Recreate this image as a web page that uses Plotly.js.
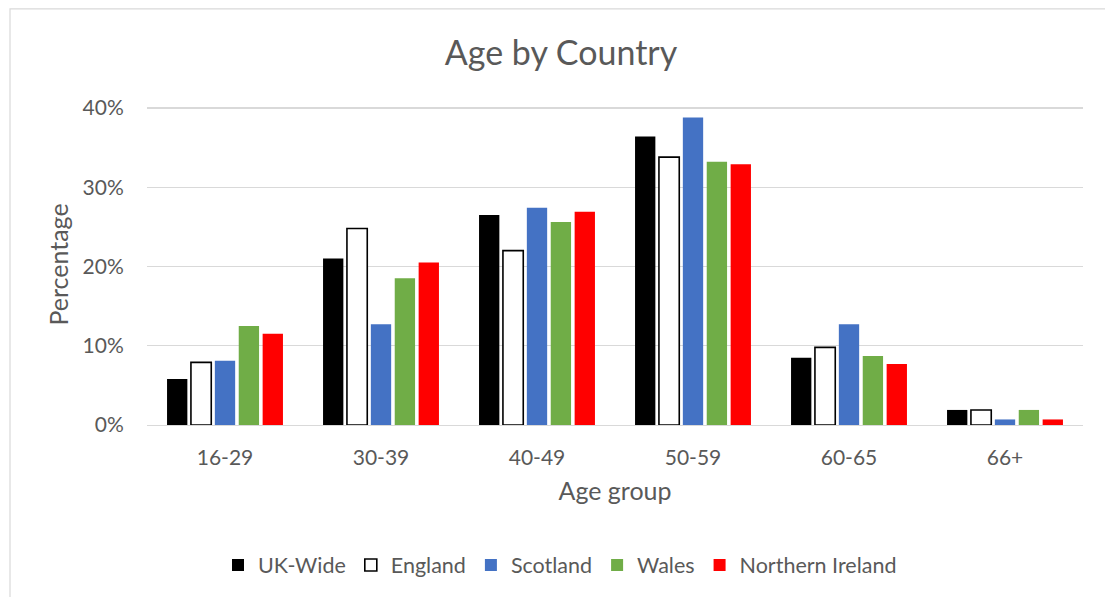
<!DOCTYPE html>
<html>
<head>
<meta charset="utf-8">
<script src="https://cdn.plot.ly/plotly-3.0.1.min.js"></script>
<style>
  html, body { margin: 0; padding: 0; background: #ffffff; }
  #chart { width: 1105px; height: 597px; }
</style>
</head>
<body>
<div id="chart"></div>
<script>
// Age groups on the x axis
const ageGroups = ['16-29', '30-39', '40-49', '50-59', '60-65', '66+'];

// Share of each age group, per country (fractions of 1)
const ukWide          = [0.058, 0.210, 0.265, 0.364, 0.085, 0.019];
const england         = [0.079, 0.248, 0.220, 0.338, 0.098, 0.019];
const scotland        = [0.081, 0.127, 0.274, 0.388, 0.127, 0.007];
const wales           = [0.125, 0.185, 0.256, 0.332, 0.087, 0.019];
const northernIreland = [0.115, 0.205, 0.269, 0.329, 0.077, 0.007];

const seriesNames = ['UK-Wide', 'England', 'Scotland', 'Wales', 'Northern Ireland'];

const textColor = '#595959';
const gridColor = '#d9d9d9';
const fontFamily = 'Lato, "Open Sans", sans-serif';

// plot area geometry (pixels)
const plotLeft = 147, plotRight = 1083, plotBottom = 425;
const yMax = 0.405;
const plotTop = plotBottom - (plotBottom - 108) * yMax / 0.4;
const plotW = plotRight - plotLeft, plotH = plotBottom - plotTop;

function barTrace(name, values, fill, outline) {
  return {
    type: 'bar',
    name: name,
    x: ageGroups,
    y: values,
    marker: {
      color: fill,
      line: { color: outline || fill, width: outline ? 1.6 : 0 }
    },
    hoverinfo: 'x+y+name'
  };
}

const traces = [
  barTrace(seriesNames[0], ukWide, '#000000'),
  barTrace(seriesNames[1], england, '#ffffff', '#000000'),
  barTrace(seriesNames[2], scotland, '#4472c4'),
  barTrace(seriesNames[3], wales, '#70ad47'),
  barTrace(seriesNames[4], northernIreland, '#ff0000')
];

const layout = {
  width: 1105,
  height: 597,
  margin: { l: plotLeft, r: 1105 - plotRight, t: plotTop, b: 597 - plotBottom },
  paper_bgcolor: '#ffffff',
  plot_bgcolor: '#ffffff',
  font: { family: fontFamily, color: textColor, size: 21 },
  barmode: 'group',
  bargap: 0.234,
  bargroupgap: 0.15,
  title: {
    text: 'Age by Country',
    font: { family: fontFamily, size: 34, color: textColor },
    x: 561 / 1105,
    xanchor: 'center',
    y: 1 - 53 / 597,
    yanchor: 'middle',
    yref: 'container'
  },
  xaxis: {
    type: 'category',
    showgrid: false,
    showline: true,
    linecolor: gridColor,
    linewidth: 1.3,
    ticks: 'outside',
    ticklen: 13,
    tickcolor: 'rgba(0,0,0,0)',
    tickfont: { family: fontFamily, size: 21, color: textColor },
    title: {
      text: 'Age group',
      font: { family: fontFamily, size: 25, color: textColor },
      standoff: 15
    },
    automargin: false,
    fixedrange: true
  },
  yaxis: {
    range: [0, yMax],
    dtick: 0.1,
    tickformat: '.0%',
    showgrid: true,
    gridcolor: gridColor,
    gridwidth: 1.3,
    zeroline: false,
    showline: false,
    ticks: 'outside',
    ticklen: 18,
    tickcolor: 'rgba(0,0,0,0)',
    tickfont: { family: fontFamily, size: 21, color: textColor },
    title: {
      text: 'Percentage',
      font: { family: fontFamily, size: 25, color: textColor },
      standoff: 6
    },
    automargin: false,
    fixedrange: true
  },
  legend: {
    orientation: 'h',
    x: (560 - plotLeft) / plotW,
    xanchor: 'center',
    y: (plotBottom - 565) / plotH,
    yanchor: 'middle',
    font: { family: fontFamily, size: 21.5, color: textColor },
    bgcolor: 'rgba(0,0,0,0)',
    traceorder: 'normal'
  },
  shapes: [
    {
      // light frame round the whole chart area
      type: 'rect',
      xref: 'paper',
      yref: 'paper',
      x0: (10 - plotLeft) / plotW,
      x1: (1130 - plotLeft) / plotW,
      y0: (plotBottom - 630) / plotH,
      y1: (plotBottom - 9) / plotH,
      line: { color: gridColor, width: 1.2 },
      fillcolor: 'rgba(0,0,0,0)',
      layer: 'below'
    }
  ],
  showlegend: true
};

Plotly.newPlot('chart', traces, layout, { displayModeBar: false, staticPlot: true });
</script>
</body>
</html>
